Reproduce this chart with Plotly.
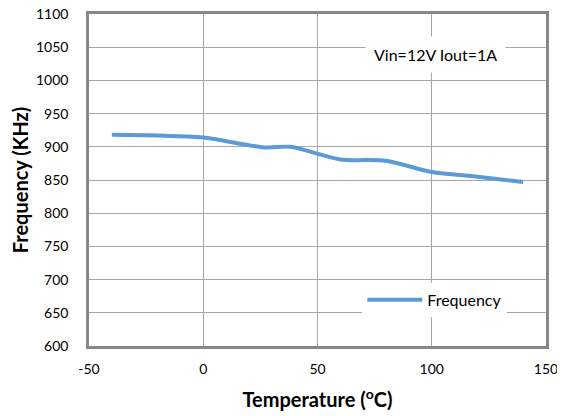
import plotly.graph_objects as go

temperature = [-40, -20, 0, 27, 38, 60, 80, 100, 120, 140]
frequency = [918, 917, 914, 899, 900, 881, 879, 862, 855, 847]

x_ticks = [-50, 0, 50, 100, 150]
y_ticks = [600, 650, 700, 750, 800, 850, 900, 950, 1000, 1050, 1100]

font_family = "Lato, Open Sans, sans-serif"
grid_color = "#A6A6A6"
frame_color = "#878787"

fig = go.Figure()
fig.add_trace(go.Scatter(
    x=temperature, y=frequency, mode="lines", name="Frequency",
    line=dict(color="#5B9BD5", width=4, shape="spline", smoothing=0.8),
))

fig.update_layout(
    width=565, height=416,
    margin=dict(l=81, r=27, t=6, b=78),
    paper_bgcolor="white", plot_bgcolor="white",
    font=dict(family=font_family, size=14, color="#000000"),
    showlegend=True,
    legend=dict(
        x=0.598, y=0.139, xanchor="left", yanchor="middle",
        bgcolor="white", borderwidth=0,
        font=dict(size=16, family=font_family),
        itemwidth=55,
    ),
    xaxis=dict(
        range=[-50, 150], tickvals=x_ticks, ticktext=[str(v) for v in x_ticks],
        showgrid=True, gridcolor=grid_color, gridwidth=1,
        showline=True, linecolor=frame_color, linewidth=2.5, mirror=True,
        ticks="", zeroline=False, ticklabelstandoff=8, automargin=False,
        ticklabeloverflow="allow",
        title=dict(text="<b>Temperature (<sup>o</sup>C)</b>", font=dict(size=20), standoff=18),
    ),
    yaxis=dict(
        range=[600, 1100], tickvals=y_ticks, ticktext=[str(v) for v in y_ticks],
        showgrid=True, gridcolor=grid_color, gridwidth=1,
        showline=True, linecolor=frame_color, linewidth=2.5, mirror=True,
        ticks="", zeroline=False, ticklabelstandoff=15, automargin=False,
        ticklabeloverflow="allow",
        title=dict(text="<b>Frequency (KHz)</b>", font=dict(size=20), standoff=2),
    ),
    annotations=[dict(
        x=0.758, y=0.877, xref="paper", yref="paper",
        xanchor="center", yanchor="middle",
        text="Vin=12V Iout=1A", showarrow=False,
        font=dict(size=16, family=font_family),
        bgcolor="white", borderpad=8,
    )],
)

fig.write_html("out.html")
